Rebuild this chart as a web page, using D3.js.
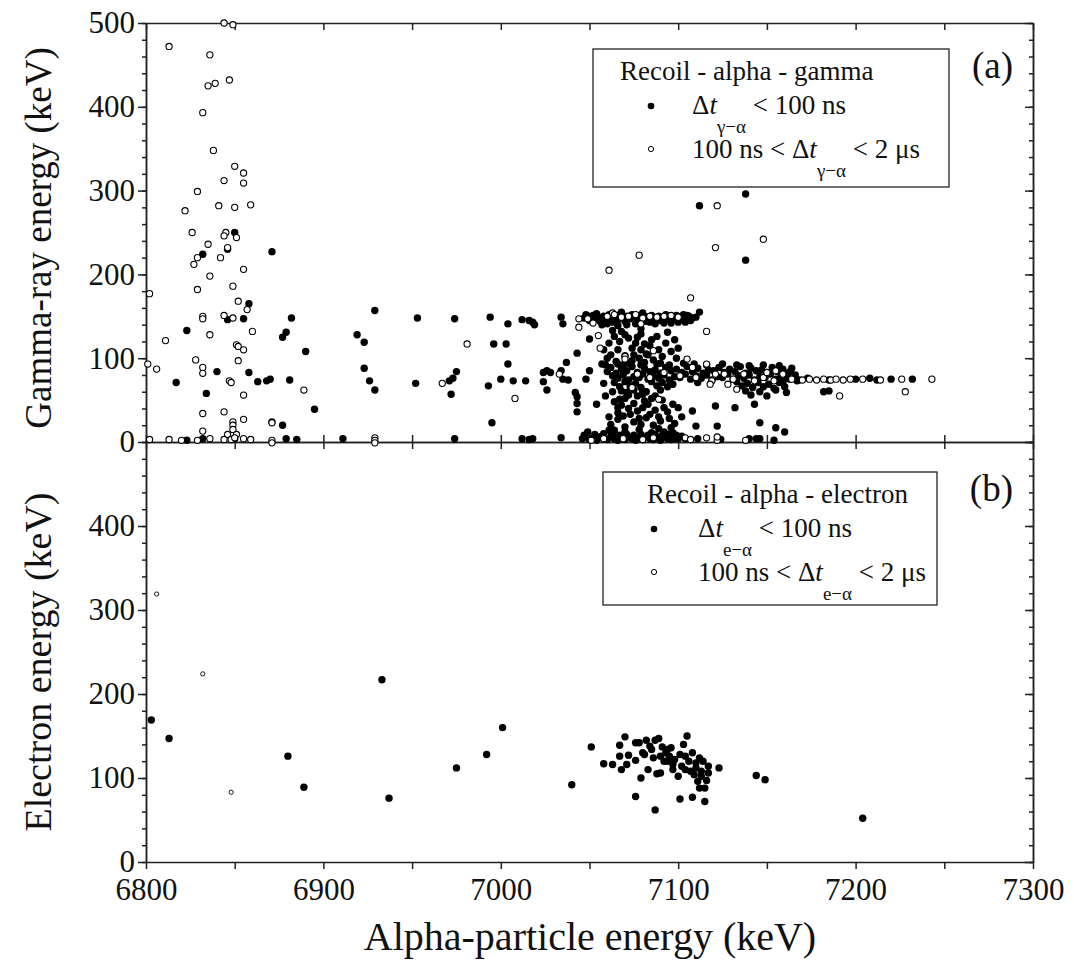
<!DOCTYPE html>
<html>
<head>
<meta charset="utf-8">
<title>Alpha-gamma / alpha-electron coincidences</title>
<script src="https://d3js.org/d3.v7.min.js"></script>
<style>
  body { margin: 0; background: #fff; }
  svg text { font-family: "Liberation Serif", "Times New Roman", serif; fill: #111; }
  .axis path, .axis line { stroke: #222; stroke-width: 1.5px; }
</style>
</head>
<body>
<svg id="chart" width="1074" height="964" font-family="Liberation Serif, serif"></svg>
<script>
// ---- data (keV) ----
const xTicks = [6800, 6900, 7000, 7100, 7200, 7300];
const yTicksTop = [0, 100, 200, 300, 400, 500];
const yTicksBottom = [0, 100, 200, 300, 400];

// (a) recoil-alpha-gamma, dt < 100 ns  [alpha energy, gamma energy]
const gammaPrompt = [
  // low alpha energies
  [6850,250],[6832,224],[6846,230],[6871,227],[6858,165],[6882,148],[6846,146],[6855,147],[6929,157],
  [6823,133],[6879,131],[6877,125],[6919,128],[6923,119],[6890,108],[6923,88],[6840,84],[6858,83],
  [6817,71],[6863,72],[6868,73],[6870,75],[6881,74],[6926,73],[6929,62],[6834,58],[6895,39],[6877,20],
  [6823,2],[6832,4],[6850,4],[6879,4],[6885,3],[6911,4],
  [6953,148],[6952,70],[6974,147],[6974,4],[6972,57],[6971,73],[6973,76],[6975,84],[6994,149],[6996,117],
  [6993,67],[6995,23],[7000,75],[7004,141],[7003,117],[7004,93],[7007,73],[7012,146],[7016,145],[7018,143],
  [7019,140],[7014,73],[7012,4],[7016,3],[7018,4],[7024,83],[7026,85],[7028,83],[7024,72],[7026,62],
  [7034,149],[7035,141],[7034,85],[7035,75],[7038,74],[7034,5],[7037,95],[7043,106],[7042,59],[7043,54],
  [7043,46],[7043,36],[7050,123],[7054,45],[7048,75],[7050,85],
  // high-energy gammas
  [7112,282],[7138,296],[7138,217],[7112,155],[7105,151],[7108,148],
  // ~148 keV band
  [7047,148],[7049,150],[7050,145],[7052,151],[7053,147],[7055,149],[7056,144],[7058,150],[7059,146],[7061,152],
  [7062,148],[7063,143],[7065,150],[7066,146],[7067,152],[7069,148],[7070,144],[7071,150],[7073,147],[7074,152],
  [7075,149],[7077,145],[7078,151],[7079,147],[7081,150],[7082,144],[7083,149],[7085,151],[7086,146],[7087,148],
  [7089,150],[7090,145],[7091,149],[7093,152],[7094,147],[7095,150],[7097,146],[7098,149],[7099,151],[7101,147],
  [7102,150],[7104,148],[7106,150],[7104,143],[7071,140],[7066,139],[7087,141],[7057,140],[7096,142],
  [7048,152],[7054,153],[7060,141],[7068,155],[7076,141],[7080,154],[7084,143],[7092,142],[7100,143],[7103,152],
  [7107,145],[7110,149],
  // connecting structure between the bands
  [7058,110],[7061,118],[7064,126],[7060,100],[7057,93],[7068,132],[7072,124],[7076,118],[7079,110],[7083,104],
  [7086,98],[7090,94],[7066,110],[7070,103],[7074,97],[7094,131],[7098,122],[7088,126],[7079,129],[7081,117],
  [7082,105],[7080,61],[7081,49],[7080,41],[7082,29],[7079,21],[7062,21],[7066,27],[7069,31],[7073,33],
  [7077,37],[7066,41],[7067,51],[7071,59],[7073,65],[7084,33],[7090,25],[7096,17],[7092,41],[7097,45],
  [7063,133],[7067,120],[7070,128],[7074,112],[7077,125],[7078,100],[7081,95],[7084,115],[7085,122],[7089,110],
  [7091,102],[7093,118],[7096,108],[7099,100],[7100,112],[7062,104],[7065,96],[7069,92],[7075,104],[7079,135],
  [7064,48],[7066,35],[7068,44],[7070,52],[7072,40],[7075,46],[7077,55],[7078,28],[7083,45],[7085,52],
  [7087,38],[7089,30],[7091,50],[7094,36],[7095,28],[7098,22],[7102,30],[7086,20],[7075,24],[7070,18],
  [7061,30],[7059,55],[7063,60],[7058,70],
  // ~80 keV band
  [7062,89],[7068,87],[7074,90],[7081,88],[7087,86],[7093,89],[7099,87],[7105,90],[7111,88],[7117,86],
  [7123,89],[7129,87],[7135,90],[7141,88],[7147,86],[7153,89],[7159,87],[7164,88],
  [7060,84],[7065,82],[7071,85],[7077,83],[7084,84],[7090,82],[7096,85],[7102,83],[7108,84],[7114,82],
  [7120,85],[7126,83],[7132,84],[7138,82],[7144,85],[7150,83],[7156,84],[7162,82],
  [7063,79],[7069,80],[7075,78],[7080,81],[7086,79],[7092,80],[7098,78],[7104,81],[7110,79],[7116,80],
  [7122,78],[7128,81],[7134,79],[7140,80],[7146,78],[7152,81],[7158,79],
  [7066,76],[7072,74],[7078,77],[7083,75],[7089,76],[7095,74],[7101,77],[7107,75],[7113,76],[7119,74],
  [7125,77],[7131,75],[7137,76],[7143,74],[7149,77],[7155,75],[7161,76],
  [7064,71],[7070,72],[7076,70],[7085,72],[7091,71],[7097,69],[7111,71],[7133,72],[7139,70],[7145,71],
  [7151,69],[7157,71],
  [7067,66],[7073,67],[7079,65],[7088,67],[7094,66],[7136,67],[7142,65],[7148,66],[7154,64],[7160,66],
  [7068,61],[7075,62],[7082,60],[7090,62],[7138,61],[7146,60],[7155,62],
  [7072,56],[7080,57],[7087,55],[7141,56],[7150,55],
  [7059,92],[7066,93],[7072,94],[7079,92],[7088,93],[7095,92],[7103,94],[7109,93],[7116,92],[7125,93],
  [7133,92],[7140,91],[7148,92],[7157,91],[7163,84],[7166,80],[7167,73],[7161,59],[7159,71],
  [7163,75],[7168,74],[7173,76],[7185,74],[7200,75],[7208,76],[7212,74],[7220,75],[7232,75],[7182,60],[7185,61],
  // low gammas / x-rays
  [7100,41],[7108,37],[7121,43],[7110,19],[7122,19],[7146,23],[7155,17],[7160,12],[7132,41],[7143,45],
  [7046,4],[7048,6],[7050,3],[7052,5],[7054,2],[7056,6],[7058,4],[7060,3],[7062,6],[7064,4],
  [7066,2],[7068,5],[7070,3],[7072,6],[7074,4],[7076,2],[7078,5],[7080,3],[7082,6],[7084,4],
  [7086,3],[7088,5],[7090,2],[7092,6],[7094,4],[7096,3],[7098,5],[7100,4],[7104,4],[7058,10],
  [7070,12],[7085,11],[7078,15],[7064,14],[7092,12],
  [7047,8],[7053,9],[7057,7],[7063,9],[7067,8],[7071,9],[7075,8],[7079,9],[7083,8],[7087,9],
  [7091,8],[7095,9],[7099,8],[7102,7],[7049,12],[7061,14],[7089,16],[7097,11],
  [7099,4],[7111,4],[7124,3],[7140,4],[7144,4],[7146,4],[7154,2]
];

// (a) recoil-alpha-gamma, 100 ns < dt < 2 us
const gammaDelayed = [
  [6844,500],[6849,498],
  [6813,472],[6836,462],[6847,432],[6835,425],[6839,428],[6832,393],[6838,348],[6850,329],[6855,321],
  [6844,312],[6855,309],[6829,299],[6841,282],[6850,280],[6859,283],[6822,276],[6826,250],[6845,250],
  [6844,246],[6851,244],[6835,236],[6846,232],[6829,220],[6842,220],[6827,212],[6855,206],[6836,198],
  [6829,182],[6849,186],[6802,177],[6852,168],[6857,158],[6832,150],[6832,147],[6844,151],[6849,148],
  [6860,132],[6836,128],[6811,121],[6851,116],[6852,114],[6855,110],[6852,97],[6828,98],[6801,93],
  [6806,87],[6832,89],[6832,82],[6847,73],[6848,71],[6855,56],[6889,62],[6832,34],[6844,36],[6855,27],
  [6849,24],[6849,20],[6849,15],[6846,9],[6851,9],[6832,13],[6871,24],[6871,23],
  [6802,3],[6813,3],[6820,2],[6829,2],[6836,4],[6844,3],[6848,3],[6850,5],[6855,4],[6859,3],[6871,2],
  [6871,-1],[6929,5],[6929,2],[6929,-1],
  [6981,117],[6967,70],[7008,52],[7033,81],[7044,147],[7044,137],[7061,205],[7078,223],[7121,232],
  [7122,282],[7148,242],[7107,172],[7116,132],[7055,127],[7056,112],[7063,154],[7086,109],[7070,102],
  [7070,99],[7105,99],[7116,93],[7121,81],[7074,65],[7089,51],
  // inside the ~148 keV band
  [7049,147],[7052,142],[7060,150],[7064,152],[7068,149],[7072,150],[7076,152],[7080,148],[7084,150],
  [7088,149],[7092,150],[7096,151],[7079,141],[7100,149],
  // inside the ~80 keV band
  [7077,81],[7084,77],[7092,83],[7101,79],[7108,89],[7110,77],[7119,73],[7126,81],[7131,75],[7137,81],
  [7143,73],[7148,77],[7154,73],[7159,81],[7164,75],[7118,69],[7128,69],[7133,63],[7150,83],[7155,85],
  [7170,74],[7174,75],[7178,74],[7182,75],[7186,74],[7189,75],[7193,74],[7197,75],[7204,75],[7214,74],
  [7226,75],[7243,75],[7191,55],[7228,60],
  // x-ray region
  [7051,2],[7058,4],[7069,4],[7080,3],[7086,5],[7104,5],[7107,3],[7116,5],[7122,2],[7122,6],[7138,2]
];

// (b) recoil-alpha-electron, dt < 100 ns  [alpha energy, electron energy]
const electronPrompt = [
  [6803,169],[6813,147],[6880,126],[6889,89],[6933,217],[6937,76],[6975,112],[6992,128],[7001,160],
  [7040,92],[7051,137],[7058,117],[7063,116],[7067,139],[7067,126],[7068,110],[7070,149],[7071,116],
  [7072,127],[7076,121],[7076,142],[7078,142],[7079,100],[7076,78],[7080,130],[7081,128],[7082,145],
  [7083,110],[7084,138],[7085,134],[7086,124],[7087,145],[7088,105],[7089,147],[7087,62],[7090,126],
  [7090,106],[7091,137],[7092,120],[7093,130],[7094,134],[7094,120],[7095,126],[7096,136],[7097,116],
  [7097,110],[7098,122],[7100,102],[7101,128],[7101,75],[7102,114],[7103,140],[7104,126],[7104,110],
  [7105,150],[7106,120],[7107,108],[7108,77],[7108,130],[7109,104],[7110,112],[7110,118],[7111,96],
  [7112,124],[7112,88],[7113,108],[7113,102],[7114,120],[7115,88],[7115,72],[7116,97],[7117,114],
  [7117,106],[7123,112],[7144,103],[7149,98],[7204,52]
];

// (b) recoil-alpha-electron, 100 ns < dt < 2 us
const electronDelayed = [[6806,319],[6832,224],[6848,83]];

// ---- layout ----
const svg = d3.select("#chart");
const L = 146, R = 1033, T = 23, M = 442, B = 862;
const serif = '"Liberation Serif", "Times New Roman", serif';

const x = d3.scaleLinear().domain([6800, 7300]).range([L, R]);
const yTop = d3.scaleLinear().domain([0, 500]).range([M, T]);
const yBot = d3.scaleLinear().domain([0, 500]).range([B, M]);

const xMinor = d3.range(6800, 7301, 50);
const yMinor = d3.range(0, 501, 20);

function addAxis(axis, tx, ty) {
  const g = svg.append("g").attr("class", "axis")
    .attr("transform", `translate(${tx},${ty})`)
    .call(axis.tickSizeOuter(0));
  g.attr("font-family", null).attr("font-size", null);
  g.selectAll("text").style("font-family", serif).style("font-size", "31px").attr("fill", "#111");
  return g;
}

// horizontal frame lines (ticks every 50 keV, pointing inward)
addAxis(d3.axisBottom(x).tickValues(xMinor).tickSize(7).tickFormat(""), 0, T);
addAxis(d3.axisTop(x).tickValues(xMinor).tickSize(7).tickFormat(""), 0, M);
addAxis(d3.axisBottom(x).tickValues(xMinor).tickSize(7).tickFormat(""), 0, M);
addAxis(d3.axisBottom(x).tickValues(xMinor).tickSize(7).tickPadding(9)
  .tickFormat(d => xTicks.includes(d) ? d : ""), 0, B);

// vertical axes, both panels
[[yTop, yTicksTop], [yBot, yTicksBottom]].forEach(([y, labels]) => {
  addAxis(d3.axisLeft(y).tickValues(yMinor).tickSize(4).tickFormat(""), L, 0);
  addAxis(d3.axisLeft(y).tickValues(labels).tickSize(8).tickPadding(3), L, 0);
  addAxis(d3.axisLeft(y).tickValues(yMinor).tickSize(4).tickFormat(""), R, 0);
  addAxis(d3.axisLeft(y).tickValues(yTicksTop).tickSize(8).tickFormat(""), R, 0);
});

// ---- markers ----
const gammaLayer = svg.append("g");
gammaLayer.selectAll("circle.prompt").data(gammaPrompt).join("circle")
  .attr("class", "prompt")
  .attr("cx", d => x(d[0])).attr("cy", d => yTop(d[1]))
  .attr("r", 3.7).attr("fill", "#000");
gammaLayer.selectAll("circle.delayed").data(gammaDelayed).join("circle")
  .attr("class", "delayed")
  .attr("cx", d => x(d[0])).attr("cy", d => yTop(d[1]))
  .attr("r", 3.1).attr("fill", "#fff").attr("stroke", "#000").attr("stroke-width", 1.1);

const electronLayer = svg.append("g");
electronLayer.selectAll("circle.prompt").data(electronPrompt).join("circle")
  .attr("class", "prompt")
  .attr("cx", d => x(d[0])).attr("cy", d => yBot(d[1]))
  .attr("r", 3.7).attr("fill", "#000");
electronLayer.selectAll("circle.delayed").data(electronDelayed).join("circle")
  .attr("class", "delayed")
  .attr("cx", d => x(d[0])).attr("cy", d => yBot(d[1]))
  .attr("r", 2.1).attr("fill", "#fff").attr("stroke", "#000").attr("stroke-width", 0.9);

// ---- axis titles ----
function label(t, size) {
  return t.style("font-family", serif).style("font-size", size).attr("fill", "#111");
}
label(svg.append("text").attr("transform", "translate(51,238) rotate(-90)")
  .attr("text-anchor", "middle").text("Gamma-ray energy (keV)"), "37px");
label(svg.append("text").attr("transform", "translate(51,662) rotate(-90)")
  .attr("text-anchor", "middle").text("Electron energy (keV)"), "38px");
label(svg.append("text").attr("x", 590).attr("y", 950)
  .attr("text-anchor", "middle").text("Alpha-particle energy (keV)"), "40px");

// panel tags
label(svg.append("text").attr("x", 1013).attr("y", 78).attr("text-anchor", "end").text("(a)"), "37px");
label(svg.append("text").attr("x", 1013).attr("y", 501).attr("text-anchor", "end").text("(b)"), "37px");

// ---- legends ----
function legend(bx, by, bw, bh, title, sub, tx, mx, textX) {
  const g = svg.append("g");
  g.append("rect").attr("x", bx).attr("y", by).attr("width", bw).attr("height", bh)
    .attr("fill", "#fff").attr("stroke", "#222").attr("stroke-width", 1.3);
  label(g.append("text").attr("x", tx).attr("y", by + 31).text(title), "27px");

  g.append("circle").attr("cx", mx).attr("cy", by + 57).attr("r", 3.3).attr("fill", "#000");
  const r1 = label(g.append("text").attr("x", textX).attr("y", by + 65), "27px");
  r1.append("tspan").text("\u0394");
  r1.append("tspan").style("font-style", "italic").text("t");
  r1.append("tspan").attr("dy", 19).style("font-size", "19px").text(sub);
  r1.append("tspan").attr("dy", -19).text(" < 100 ns");

  g.append("circle").attr("cx", mx).attr("cy", by + 100).attr("r", 2.6)
    .attr("fill", "#fff").attr("stroke", "#000").attr("stroke-width", 1);
  const r2 = label(g.append("text").attr("x", textX).attr("y", by + 109), "27px");
  r2.append("tspan").text("100 ns < \u0394");
  r2.append("tspan").style("font-style", "italic").text("t");
  r2.append("tspan").attr("dy", 19).style("font-size", "19px").text(sub);
  r2.append("tspan").attr("dy", -19).text(" < 2 \u03bcs");
}

legend(593, 49, 356, 138, "Recoil - alpha - gamma", "\u03b3\u2212\u03b1", 620, 651, 692);
legend(603, 472, 334, 133, "Recoil - alpha - electron", "e\u2212\u03b1", 647, 654, 698);
</script>
</body>
</html>
